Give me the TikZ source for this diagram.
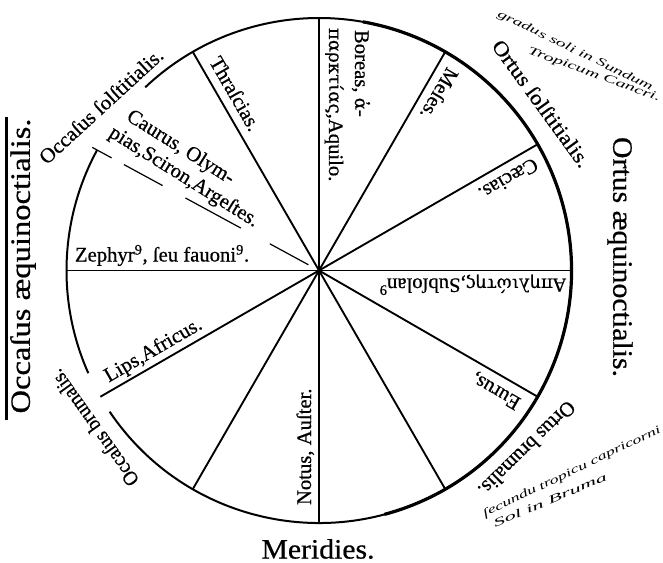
\documentclass[tikz,border=0pt]{standalone}
\usepackage{fontspec}
\setmainfont{Liberation Serif}
\newfontfamily\prn{Liberation Serif}[FakeBold=0.6]
\newfontfamily\grk{DejaVu Serif}[FakeBold=0.3]
\usetikzlibrary{calc}
\newlength\px
\setlength\px{0.75pt}
\newcommand\fitw[2]{\resizebox{#1\px}{\height}{#2}}
\newcommand\usmark{\textsuperscript{9}}
\newcommand\gk[1]{{\grk\fontsize{13.6}{16}\selectfont #1}}
\begin{document}
\begin{tikzpicture}[x=0.75pt,y=0.75pt,
  lab/.style={inner sep=0pt,outer sep=0pt,font=\prn\fontsize{15.5}{18}\selectfont},
  wind/.style={lab,anchor=base west},
  big/.style={inner sep=0pt,outer sep=0pt,font=\prn\fontsize{21}{24}\selectfont},
  hand/.style={inner sep=0pt,outer sep=0pt,font=\fontsize{8.5}{10}\selectfont\itshape},
  rim/.style={line width=1.5pt},
  heavyrim/.style={line width=2.4pt},
  spoke/.style={line width=1.4pt},
  faint/.style={line width=0.9pt},
  rule/.style={line width=1.7pt}]
\path[fill=white] (0,0) rectangle (663,-563);
\useasboundingbox (0,0) rectangle (663,-563);
\def\R{252.5}
\coordinate (c) at (319,-270.5);
% spokes
\foreach \a in {0,30,60,90,120,180,210,240,270,300,330}{
  \coordinate (e\a) at ($(c)+(\a:\R)$);
  \draw[spoke] (c) -- (e\a);}
% broken spoke
\foreach \r/\s [count=\i] in {258/236,222/178,152/89,56/12}{
  \coordinate (p\i) at ($(c)+(151.5:\r)$);
  \coordinate (q\i) at ($(c)+(151.5:\s)$);
  \draw[faint] (p\i) -- (q\i);}
% rim
\coordinate (a1) at ($(c)+(214:\R)$);
\draw[rim] (a1) arc[start angle=214,end angle=493.5,radius=\R];
\coordinate (a2) at ($(c)+(151.5:\R)$);
\draw[rim] (a2) arc[start angle=151.5,end angle=204,radius=\R];
\coordinate (a3) at ($(c)+(-75:\R)$);
\draw[heavyrim] (a3) arc[start angle=-75,end angle=80,radius=\R];
% winds
\node[wind,rotate=-90] (boreasA) at ($(c)+(90:240.5)+(0:36)$) {Boreas, \gk{ἀ}-};
\node[wind,rotate=-90] (boreasB) at ($(c)+(90:242.5)+(0:10)$) {\gk{παρκτίας},Aquilo.};
\node[wind,rotate=-60] (thrascias) at ($(c)+(120:236)+(30:9)$) {Thraſcias.};
\node[wind,rotate=-32] (caurusA) at ($(c)+(150:243)+(60:34)$) {Caurus, Olym-};
\node[wind,rotate=-32] (caurusB) at ($(c)+(150:250)+(60:11)$) {pias,Sciron,Argeſtes.};
\node[wind] (zephyr) at ($(c)+(180:244)+(90:9)$) {Zephyr\usmark, ſeu fauoni\usmark.};
\node[wind,rotate=30] (lips) at ($(c)+(210:238)+(120:8)$) {Lips,Africus.};
\node[wind,rotate=90] (notus) at ($(c)+(270:234.5)+(180:8)$) {Notus, Auſter.};
\node[wind,rotate=150] (eurus) at ($(c)+(330:240)+(240:10)$) {Eurus,};
\node[wind,rotate=180] (apel) at ($(c)+(0:247)+(-90:8)$) {\gk{Απηλιώτης},Subſolan\usmark};
\node[wind,rotate=210] (caecias) at ($(c)+(30:242)+(-60:9)$) {Cæcias.};
\node[wind,rotate=240] (meses) at ($(c)+(60:241)+(-30:9)$) {Meſes.};
% outer labels
\node[lab,rotate=42.5] (occsol) at (101,-106) {\fitw{160}{Occaſus ſolſtitialis.}};
\node[lab,rotate=-54] (ortsol) at (541.5,-103.5) {\fitw{152}{Ortus ſolſtitialis.}};
\node[lab,rotate=-135.6] (ortbru) at (527,-449) {\fitw{127}{Ortus brumalis.}};
\node[lab,rotate=125.5] (occbru) at (94,-428) {\fitw{138}{Occaſus brumalis.}};
\node[big,rotate=90] (occaeq) at (23,-266) {\fitw{295}{Occaſus æquinoctialis.}};
\node[big,rotate=-90] (ortaeq) at (620,-257) {\fitw{240}{Ortus æquinoctialis.}};
\node[big] (merid) at (318,-549) {\fitw{113}{Meridies.}};
\coordinate (r1) at (6.5,-117);
\coordinate (r2) at (6.5,-420);
\draw[rule] (r1) -- (r2);
% handwritten notes
\node[hand,rotate=-25.7] (handA) at (575,-51) {\fitw{171}{gradus soli in Sundum}};
\node[hand,rotate=-20] (handB) at (594,-75) {\fitw{140}{Tropicum Cancri.}};
\node[hand,rotate=25.8] (handC) at (572,-472) {\fitw{196}{ſecundu tropicu capricorni}};
\node[hand,rotate=23] (handD) at (550,-500) {\fitw{122}{Sol in Bruma}};
\end{tikzpicture}
\end{document}
